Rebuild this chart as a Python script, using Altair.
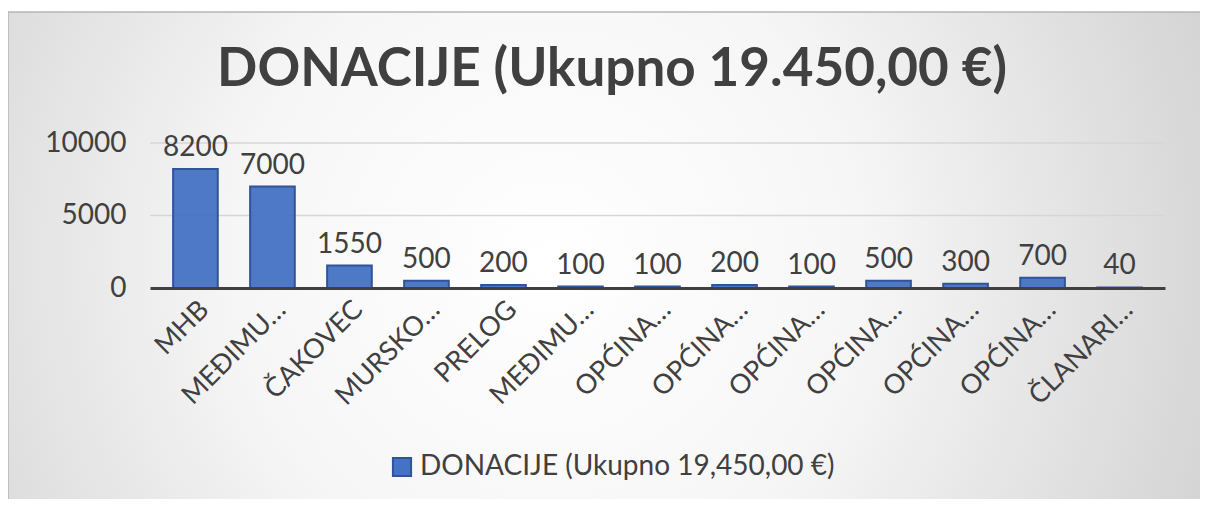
import altair as alt
import pandas as pd

categories = ["MHB", "MEĐIMU…", "ČAKOVEC", "MURSKO…", "PRELOG", "MEĐIMU…",
              "OPĆINA…", "OPĆINA…", "OPĆINA…", "OPĆINA…", "OPĆINA…", "OPĆINA…",
              "ČLANARI…"]
values = [8200, 7000, 1550, 500, 200, 100, 100, 200, 100, 500, 300, 700, 40]
series_name = "DONACIJE (Ukupno 19,450,00 €)"
title_text = "DONACIJE (Ukupno 19.450,00 €)"
y_ticks = [0, 5000, 10000]

FONT = "Lato"
TXT = "#404040"
BAR = "#4472c4"
BAR_EDGE = "#2f5597"

W, H = 1015, 145
PAD = {"left": 142, "top": 135, "right": 1192 - 142 - W, "bottom": 491 - 135 - H}

df = pd.DataFrame({"idx": list(range(len(categories))), "value": values,
                   "series": [series_name] * len(values)})
grid_df = pd.DataFrame({"value": y_ticks[1:]})
title_df = pd.DataFrame({"t": [title_text]})
label_expr = "[" + ",".join("'" + c + "'" for c in categories) + "][datum.value]"

bg = alt.Chart(pd.DataFrame({"k": [0]})).mark_rect(
    fill=alt.RadialGradient(
        gradient="radial", x1=0.45, y1=0.5, r1=0.0, x2=0.45, y2=0.5, r2=0.75,
        stops=[alt.GradientStop(offset=0, color="#ffffff"),
               alt.GradientStop(offset=0.35, color="#f6f6f6"),
               alt.GradientStop(offset=1, color="#c2c2c2")]),
    stroke="#b5b5b5", strokeWidth=1.5,
).encode(x=alt.value(-142), x2=alt.value(1060), y=alt.value(-131), y2=alt.value(370))

x_enc = alt.X("idx:O", title=None,
              scale=alt.Scale(paddingInner=0.42, paddingOuter=0.3),
              axis=alt.Axis(labelExpr=label_expr, labelAngle=-45, labelFontSize=27,
                            labelFont=FONT, labelColor=TXT, ticks=False,
                            domainColor=TXT, domainWidth=3, labelPadding=8,
                            labelOverlap=False, zindex=1))
y_enc = alt.Y("value:Q", title=None, scale=alt.Scale(domain=[0, 10000]),
              axis=alt.Axis(values=y_ticks, format="d", labelFontSize=28, labelFont=FONT,
                            labelColor=TXT, domain=False, ticks=False, grid=False,
                            labelPadding=24, zindex=1))

grid = alt.Chart(grid_df).mark_rule(color="#d6d6d6", strokeWidth=1.5).encode(y=y_enc)

bars = alt.Chart(df).mark_bar(stroke=BAR_EDGE, strokeWidth=2, fillOpacity=0.95).encode(
    x=x_enc, y=y_enc,
    color=alt.Color("series:N", scale=alt.Scale(range=[BAR]),
                    legend=alt.Legend(title=None, orient="none", legendX=238, legendY=310,
                                      labelFontSize=28, labelFont=FONT, labelColor=TXT,
                                      labelLimit=0,
                                      symbolType="square", symbolSize=330,
                                      symbolStrokeColor=BAR_EDGE, symbolStrokeWidth=2,
                                      symbolFillColor=BAR, symbolOpacity=1)),
)

labels = alt.Chart(df).mark_text(baseline="bottom", dy=-7, fontSize=28, font=FONT,
                                 color=TXT).encode(
    x=alt.X("idx:O"), y=alt.Y("value:Q"), text=alt.Text("value:Q"))

title = alt.Chart(title_df).mark_text(fontSize=53, font=FONT, fontWeight="bold",
                                      color=TXT, baseline="middle", align="center").encode(
    x=alt.value(462), y=alt.value(-73), text="t:N")

chart = alt.layer(bg, grid, bars, labels, title).properties(
    width=W, height=H,
    autosize=alt.AutoSizeParams(type="none"),
    padding=PAD,
    background="white",
).configure_view(stroke=None)

chart.save("out.html", embed_options={"renderer": "svg", "actions": False})
